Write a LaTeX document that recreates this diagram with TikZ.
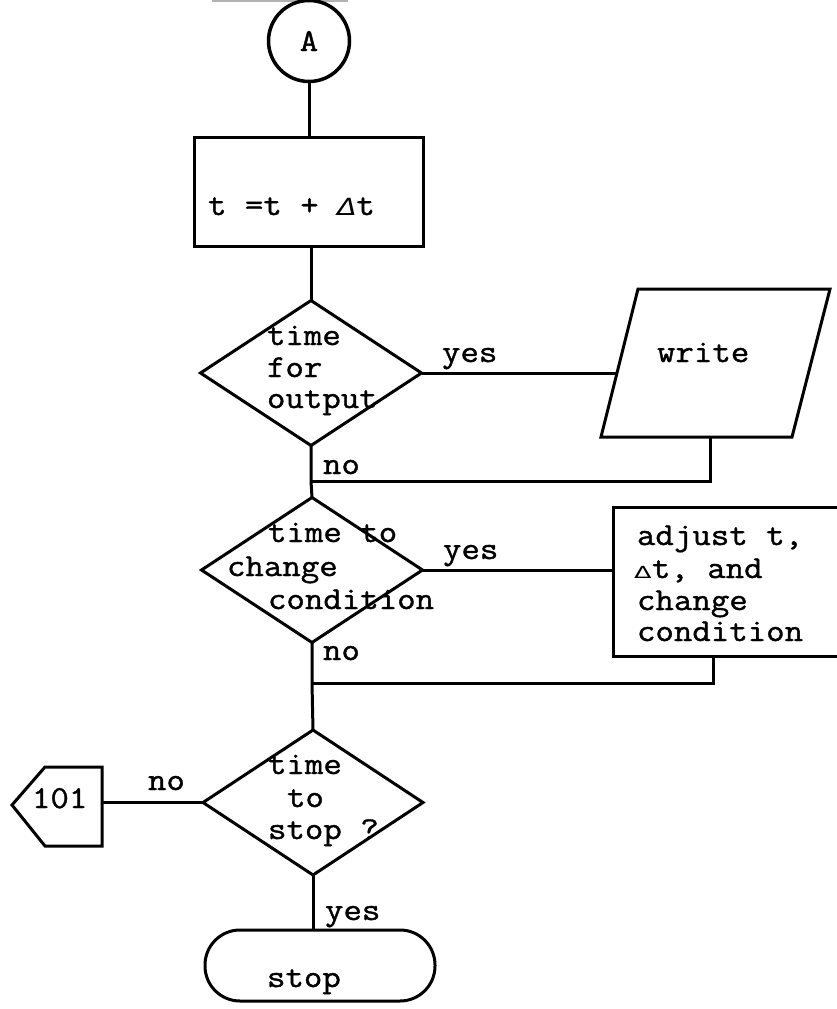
\documentclass[tikz,border=0pt]{standalone}
\usepackage{fontspec}
\usepackage{graphicx}
\setmonofont{Latin Modern Mono}[FakeStretch=1.12, FakeBold=1.2]
\newfontfamily\grk{DejaVu Sans}
\usetikzlibrary{shapes.geometric}
\newcommand\dtA{\makebox[0.6em][l]{\scalebox{0.9}[0.74]{{\grk\itshape Δ}}}}
\newcommand\dtB{\makebox[0.56em][l]{\scalebox{0.8}[0.52]{{\grk Δ}}}}
\begin{document}
\begin{tikzpicture}[x=1pt,y=-1pt, line width=3pt,
  txt/.style={anchor=base west, inner sep=0pt, outer sep=0pt, font=\fontsize{32}{30}\selectfont\ttfamily},
  dec/.style={diamond, draw, inner sep=0pt, outer sep=0pt, minimum width=221pt, minimum height=145pt},
  boxn/.style={rectangle, draw, inner sep=0pt, outer sep=0pt},
  conn/.style={draw, line width=3pt}]
\useasboundingbox (0,0) rectangle (837,1009);
\clip (0,0) rectangle (837,1009);
% scan edge line at top
\draw[gray!60, line width=1.5pt] (212,1) coordinate (g1) -- (348,1) coordinate (g2);
% connector A
\node[circle, draw, line width=3.5pt, minimum size=81pt, inner sep=0pt, outer sep=0pt,
      font=\fontsize{32}{30}\selectfont\ttfamily] (A) at (309,41) {A};
% t = t + dt
\node[boxn, minimum width=229pt, minimum height=109pt] (calc) at (308.5,191.5) {};
\node[txt] (calct) at (208,215) {t =t + \dtA t};
% decision 1
\node[dec] (d1) at (311,373) {};
\node[txt] (d1a) at (267,345) {time};
\node[txt] (d1b) at (267,377) {for};
\node[txt] (d1c) at (267,408) {output};
% write parallelogram
\coordinate (w1) at (638,289);
\coordinate (w2) at (830,289);
\coordinate (w3) at (792,437);
\coordinate (w4) at (601,437);
\draw (w1) -- (w2) -- (w3) -- (w4) -- cycle;
\node[txt] (wt) at (657,362) {write};
\coordinate (wl) at (617,373);
\coordinate (wb) at (710,437);
% decision 2
\node[dec] (d2) at (312,570) {};
\node[txt] (d2a) at (268,542) {time to};
\node[txt] (d2b) at (227,576) {change};
\node[txt] (d2c) at (268,609) {condition};
% adjust box (runs past the right edge)
\node[boxn, minimum width=247pt, minimum height=149pt] (adj) at (736.5,581.5) {};
\node[txt] (adja) at (637,545) {adjust t,};
\node[txt] (adjb) at (634,578) {\dtB t, and};
\node[txt] (adjc) at (637,610) {change};
\node[txt] (adjd) at (637,641) {condition};
\coordinate (ab) at (713,656);
% decision 3
\node[dec, minimum width=220pt] (d3) at (313,802.5) {};
\node[txt] (d3a) at (268,774) {time};
\node[txt] (d3b) at (287,807) {to};
\node[txt] (d3c) at (268,839) {stop ?};
% off-page connector 101
\coordinate (p1) at (12,805);
\coordinate (p2) at (45,767);
\coordinate (p3) at (102,767);
\coordinate (p4) at (102,846);
\coordinate (p5) at (45,846);
\draw (p1) -- (p2) -- (p3) -- (p4) -- (p5) -- cycle;
\node[txt] (pt) at (32,808) {101};
% stop terminal
\node[boxn, rounded corners=35pt, minimum width=230pt, minimum height=71pt] (stop) at (320,965.5) {};
\node[txt] (stopt) at (267,987) {stop};
% junctions
\coordinate (j1) at (311,481);
\coordinate (j2) at (312,683);
% connectors
\draw (A.south) -- (A.south |- calc.north);
\draw (calc.south -| d1.north) -- (d1.north);
\draw (d1.east) -- (wl);
\node[txt] (y1) at (442,362) {yes};
\draw (wb) |- (j1);
\draw (d1.south) -- (j1) -- (d2.north);
\node[txt] (n1) at (323,474) {no};
\draw (d2.east) -- (d2.east -| adj.west);
\node[txt] (y2) at (443,559) {yes};
\draw (ab) |- (j2);
\draw (d2.south) -- (j2) -- (d3.north);
\node[txt] (n2) at (323,660) {no};
\draw (d3.west) -- (d3.west -| p3);
\node[txt] (n3) at (148,790) {no};
\draw (d3.south) -- (d3.south |- stop.north);
\node[txt] (y3) at (325,920) {yes};
\end{tikzpicture}
\end{document}
